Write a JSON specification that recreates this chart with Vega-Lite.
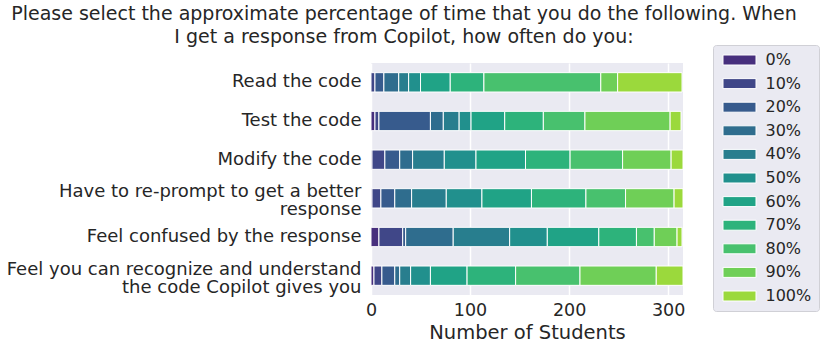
{
  "$schema": "https://vega.github.io/schema/vega-lite/v6.json",
  "autosize": {"type": "none"},
  "width": 312,
  "height": 232,
  "padding": {"left": 371, "top": 63, "right": 147, "bottom": 56},
  "background": "white",
  "title": {
    "text": ["Please select the approximate percentage of time that you do the following. When", "I get a response from Copilot, how often do you:"],
    "font": "DejaVu Sans",
    "fontSize": 19,
    "fontWeight": "normal",
    "color": "#262626",
    "anchor": "middle",
    "frame": "group",
    "dx": -123,
    "offset": -2,
    "lineHeight": 23
  },
  "data": {
    "values": [
      {"q": "Read the code", "resp": "0%", "pct": 0, "n": 0},
      {"q": "Read the code", "resp": "10%", "pct": 10, "n": 4},
      {"q": "Read the code", "resp": "20%", "pct": 20, "n": 9},
      {"q": "Read the code", "resp": "30%", "pct": 30, "n": 15},
      {"q": "Read the code", "resp": "40%", "pct": 40, "n": 10},
      {"q": "Read the code", "resp": "50%", "pct": 50, "n": 12},
      {"q": "Read the code", "resp": "60%", "pct": 60, "n": 30},
      {"q": "Read the code", "resp": "70%", "pct": 70, "n": 34},
      {"q": "Read the code", "resp": "80%", "pct": 80, "n": 118},
      {"q": "Read the code", "resp": "90%", "pct": 90, "n": 17},
      {"q": "Read the code", "resp": "100%", "pct": 100, "n": 65},

      {"q": "Test the code", "resp": "0%", "pct": 0, "n": 4},
      {"q": "Test the code", "resp": "10%", "pct": 10, "n": 4},
      {"q": "Test the code", "resp": "20%", "pct": 20, "n": 52},
      {"q": "Test the code", "resp": "30%", "pct": 30, "n": 13},
      {"q": "Test the code", "resp": "40%", "pct": 40, "n": 16},
      {"q": "Test the code", "resp": "50%", "pct": 50, "n": 12},
      {"q": "Test the code", "resp": "60%", "pct": 60, "n": 34},
      {"q": "Test the code", "resp": "70%", "pct": 70, "n": 39},
      {"q": "Test the code", "resp": "80%", "pct": 80, "n": 42},
      {"q": "Test the code", "resp": "90%", "pct": 90, "n": 86},
      {"q": "Test the code", "resp": "100%", "pct": 100, "n": 11},

      {"q": "Modify the code", "resp": "0%", "pct": 0, "n": 1},
      {"q": "Modify the code", "resp": "10%", "pct": 10, "n": 13},
      {"q": "Modify the code", "resp": "20%", "pct": 20, "n": 15},
      {"q": "Modify the code", "resp": "30%", "pct": 30, "n": 13},
      {"q": "Modify the code", "resp": "40%", "pct": 40, "n": 32},
      {"q": "Modify the code", "resp": "50%", "pct": 50, "n": 32},
      {"q": "Modify the code", "resp": "60%", "pct": 60, "n": 50},
      {"q": "Modify the code", "resp": "70%", "pct": 70, "n": 45},
      {"q": "Modify the code", "resp": "80%", "pct": 80, "n": 53},
      {"q": "Modify the code", "resp": "90%", "pct": 90, "n": 49},
      {"q": "Modify the code", "resp": "100%", "pct": 100, "n": 12},

      {"q": "Have to re-prompt to get a better\nresponse", "resp": "0%", "pct": 0, "n": 1},
      {"q": "Have to re-prompt to get a better\nresponse", "resp": "10%", "pct": 10, "n": 9},
      {"q": "Have to re-prompt to get a better\nresponse", "resp": "20%", "pct": 20, "n": 14},
      {"q": "Have to re-prompt to get a better\nresponse", "resp": "30%", "pct": 30, "n": 17},
      {"q": "Have to re-prompt to get a better\nresponse", "resp": "40%", "pct": 40, "n": 35},
      {"q": "Have to re-prompt to get a better\nresponse", "resp": "50%", "pct": 50, "n": 36},
      {"q": "Have to re-prompt to get a better\nresponse", "resp": "60%", "pct": 60, "n": 50},
      {"q": "Have to re-prompt to get a better\nresponse", "resp": "70%", "pct": 70, "n": 55},
      {"q": "Have to re-prompt to get a better\nresponse", "resp": "80%", "pct": 80, "n": 40},
      {"q": "Have to re-prompt to get a better\nresponse", "resp": "90%", "pct": 90, "n": 49},
      {"q": "Have to re-prompt to get a better\nresponse", "resp": "100%", "pct": 100, "n": 9},

      {"q": "Feel confused by the response", "resp": "0%", "pct": 0, "n": 8},
      {"q": "Feel confused by the response", "resp": "10%", "pct": 10, "n": 24},
      {"q": "Feel confused by the response", "resp": "20%", "pct": 20, "n": 3},
      {"q": "Feel confused by the response", "resp": "30%", "pct": 30, "n": 48},
      {"q": "Feel confused by the response", "resp": "40%", "pct": 40, "n": 57},
      {"q": "Feel confused by the response", "resp": "50%", "pct": 50, "n": 38},
      {"q": "Feel confused by the response", "resp": "60%", "pct": 60, "n": 52},
      {"q": "Feel confused by the response", "resp": "70%", "pct": 70, "n": 38},
      {"q": "Feel confused by the response", "resp": "80%", "pct": 80, "n": 18},
      {"q": "Feel confused by the response", "resp": "90%", "pct": 90, "n": 23},
      {"q": "Feel confused by the response", "resp": "100%", "pct": 100, "n": 5},

      {"q": "Feel you can recognize and understand\nthe code Copilot gives you", "resp": "0%", "pct": 0, "n": 3},
      {"q": "Feel you can recognize and understand\nthe code Copilot gives you", "resp": "10%", "pct": 10, "n": 8},
      {"q": "Feel you can recognize and understand\nthe code Copilot gives you", "resp": "20%", "pct": 20, "n": 13},
      {"q": "Feel you can recognize and understand\nthe code Copilot gives you", "resp": "30%", "pct": 30, "n": 5},
      {"q": "Feel you can recognize and understand\nthe code Copilot gives you", "resp": "40%", "pct": 40, "n": 11},
      {"q": "Feel you can recognize and understand\nthe code Copilot gives you", "resp": "50%", "pct": 50, "n": 20},
      {"q": "Feel you can recognize and understand\nthe code Copilot gives you", "resp": "60%", "pct": 60, "n": 37},
      {"q": "Feel you can recognize and understand\nthe code Copilot gives you", "resp": "70%", "pct": 70, "n": 49},
      {"q": "Feel you can recognize and understand\nthe code Copilot gives you", "resp": "80%", "pct": 80, "n": 65},
      {"q": "Feel you can recognize and understand\nthe code Copilot gives you", "resp": "90%", "pct": 90, "n": 77},
      {"q": "Feel you can recognize and understand\nthe code Copilot gives you", "resp": "100%", "pct": 100, "n": 27}
    ]
  },
  "mark": {"type": "bar", "stroke": "white", "strokeWidth": 1},
  "encoding": {
    "y": {
      "field": "q",
      "type": "nominal",
      "sort": ["Read the code", "Test the code", "Modify the code", "Have to re-prompt to get a better\nresponse", "Feel confused by the response", "Feel you can recognize and understand\nthe code Copilot gives you"],
      "scale": {"paddingInner": 0.5, "paddingOuter": 0.25},
      "axis": {
        "title": null,
        "labelExpr": "split(datum.label, '\\n')",
        "labelFont": "DejaVu Sans",
        "labelFontSize": 18,
        "labelColor": "#262626",
        "labelLimit": 500,
        "labelPadding": 10,
        "labelLineHeight": 18,
        "labelOffset": {"condition": {"test": "indexof(datum.label, '\\n') >= 0", "value": -6}, "value": 0},
        "ticks": false,
        "domain": false,
        "grid": false
      }
    },
    "x": {
      "field": "n",
      "type": "quantitative",
      "stack": "zero",
      "scale": {"domain": [0, 315], "nice": false},
      "axis": {
        "title": "Number of Students",
        "titleFont": "DejaVu Sans",
        "titleFontSize": 19.5,
        "titleFontWeight": "normal",
        "titleColor": "#262626",
        "titlePadding": 5,
        "values": [0, 100, 200, 300],
        "labelFont": "DejaVu Sans",
        "labelFontSize": 17.5,
        "labelColor": "#262626",
        "labelPadding": 6,
        "labelFlush": false,
        "ticks": false,
        "domain": false,
        "grid": true,
        "gridColor": "white",
        "gridWidth": 1.5
      }
    },
    "color": {
      "field": "resp",
      "type": "nominal",
      "scale": {
        "domain": ["0%", "10%", "20%", "30%", "40%", "50%", "60%", "70%", "80%", "90%", "100%"],
        "range": ["#472f7d", "#404788", "#375b8d", "#2f6d8e", "#287e8e", "#21908d", "#20a386", "#2db37b", "#48c16e", "#6fcf57", "#9bd93c"]
      },
      "legend": {
        "title": null,
        "orient": "none",
        "legendX": 342,
        "legendY": -18,
        "fillColor": "#eaeaf2",
        "strokeColor": "#d0d0d6",
        "cornerRadius": 3,
        "padding": 7,
        "symbolType": "M-3.3,-1H3.3V1H-3.3Z",
        "symbolSize": 100,
        "symbolOffset": 11.5,
        "symbolStrokeColor": "white",
        "symbolStrokeWidth": 1,
        "symbolOpacity": 1,
        "labelFont": "DejaVu Sans",
        "labelFontSize": 16,
        "labelColor": "#262626",
        "labelOffset": 18,
        "rowPadding": 7.6
      }
    },
    "order": {"field": "pct", "type": "quantitative"}
  },
  "config": {
    "view": {"fill": "#eaeaf2", "stroke": null},
    "font": "DejaVu Sans"
  }
}
